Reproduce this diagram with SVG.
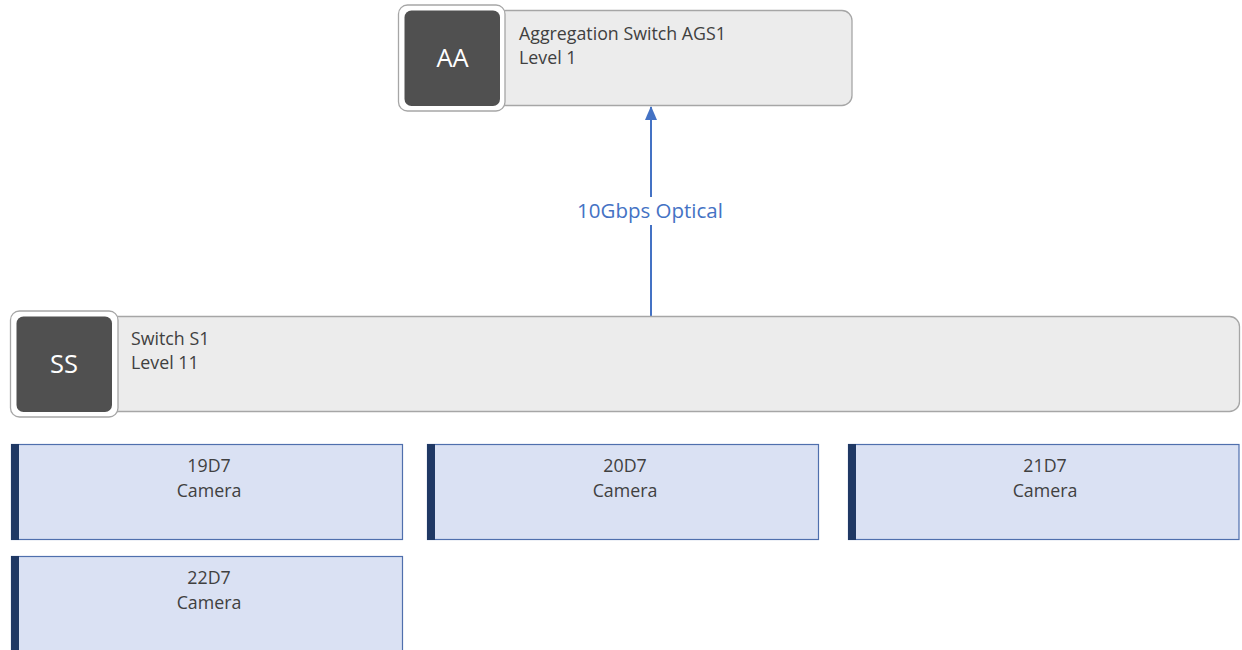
<svg xmlns="http://www.w3.org/2000/svg" width="1242" height="650" viewBox="0 0 1242 650">
<defs>
<style>
.t{font-family:"Open Sans","Liberation Sans",sans-serif;fill:#404040;font-size:17.8px}
.ini{font-family:"Open Sans","Liberation Sans",sans-serif;fill:#ffffff;font-size:25.5px;text-anchor:middle}
.outer{fill:#ffffff;stroke:#a6a6a6;stroke-width:1.3}
.dark{fill:#505050}
.grey{fill:#ececec;stroke:#a6a6a6;stroke-width:1.3}
.cam{fill:#dae1f3;stroke:#4f6fad;stroke-width:1.2}
.bar{fill:#1f3864}
.ct{font-family:"Open Sans","Liberation Sans",sans-serif;fill:#404040;font-size:17.8px;text-anchor:middle}
.lbl{font-family:"Open Sans","Liberation Sans",sans-serif;fill:#4472c4;font-size:20.5px;text-anchor:middle}
</style>
<marker id="ah" markerWidth="14" markerHeight="12" refX="13" refY="6" orient="auto" markerUnits="userSpaceOnUse" viewBox="0 0 14 12">
<path d="M0,0 L14,6 L0,12 Z" fill="#4472c4"/>
</marker>
</defs>
<rect width="1242" height="650" fill="#ffffff"/>
<g id="connectors">
<line x1="651" y1="316" x2="651" y2="225" stroke="#4472c4" stroke-width="2"/>
<line x1="651" y1="197" x2="651" y2="107" stroke="#4472c4" stroke-width="2" marker-end="url(#ah)"/>
<text class="lbl" x="650" y="218">10Gbps Optical</text>
</g>
<g id="ags1">
<rect class="grey" x="496" y="10.5" width="356" height="95" rx="10"/>
<rect class="outer" x="398.5" y="5" width="106.5" height="106" rx="9"/>
<rect class="dark" x="404.5" y="10.5" width="95.5" height="95.5" rx="7"/>
<text class="ini" x="452.5" y="67">AA</text>
<text class="t" x="519" y="40">Aggregation Switch AGS1</text>
<text class="t" x="519" y="64">Level 1</text>
</g>
<g id="s1">
<rect class="grey" x="108" y="316.5" width="1131.5" height="95" rx="10"/>
<rect class="outer" x="10.5" y="311" width="107.5" height="106" rx="9"/>
<rect class="dark" x="16.5" y="316.5" width="95.5" height="95.5" rx="7"/>
<text class="ini" x="64" y="373">SS</text>
<text class="t" x="131" y="345">Switch S1</text>
<text class="t" x="131" y="369">Level 11</text>
</g>
<g id="cam19d7">
<rect class="cam" x="11.5" y="444.5" width="391" height="95"/>
<rect class="bar" x="11" y="444" width="8" height="96"/>
<text class="ct" x="209" y="472">19D7</text>
<text class="ct" x="209" y="497">Camera</text>
</g>
<g id="cam20d7">
<rect class="cam" x="427.5" y="444.5" width="391" height="95"/>
<rect class="bar" x="427" y="444" width="8" height="96"/>
<text class="ct" x="625" y="472">20D7</text>
<text class="ct" x="625" y="497">Camera</text>
</g>
<g id="cam21d7">
<rect class="cam" x="848.5" y="444.5" width="390.5" height="95"/>
<rect class="bar" x="848" y="444" width="8" height="96"/>
<text class="ct" x="1045" y="472">21D7</text>
<text class="ct" x="1045" y="497">Camera</text>
</g>
<g id="cam22d7">
<rect class="cam" x="11.5" y="556.5" width="391" height="100"/>
<rect class="bar" x="11" y="556" width="8" height="100"/>
<text class="ct" x="209" y="584">22D7</text>
<text class="ct" x="209" y="609">Camera</text>
</g>
</svg>
